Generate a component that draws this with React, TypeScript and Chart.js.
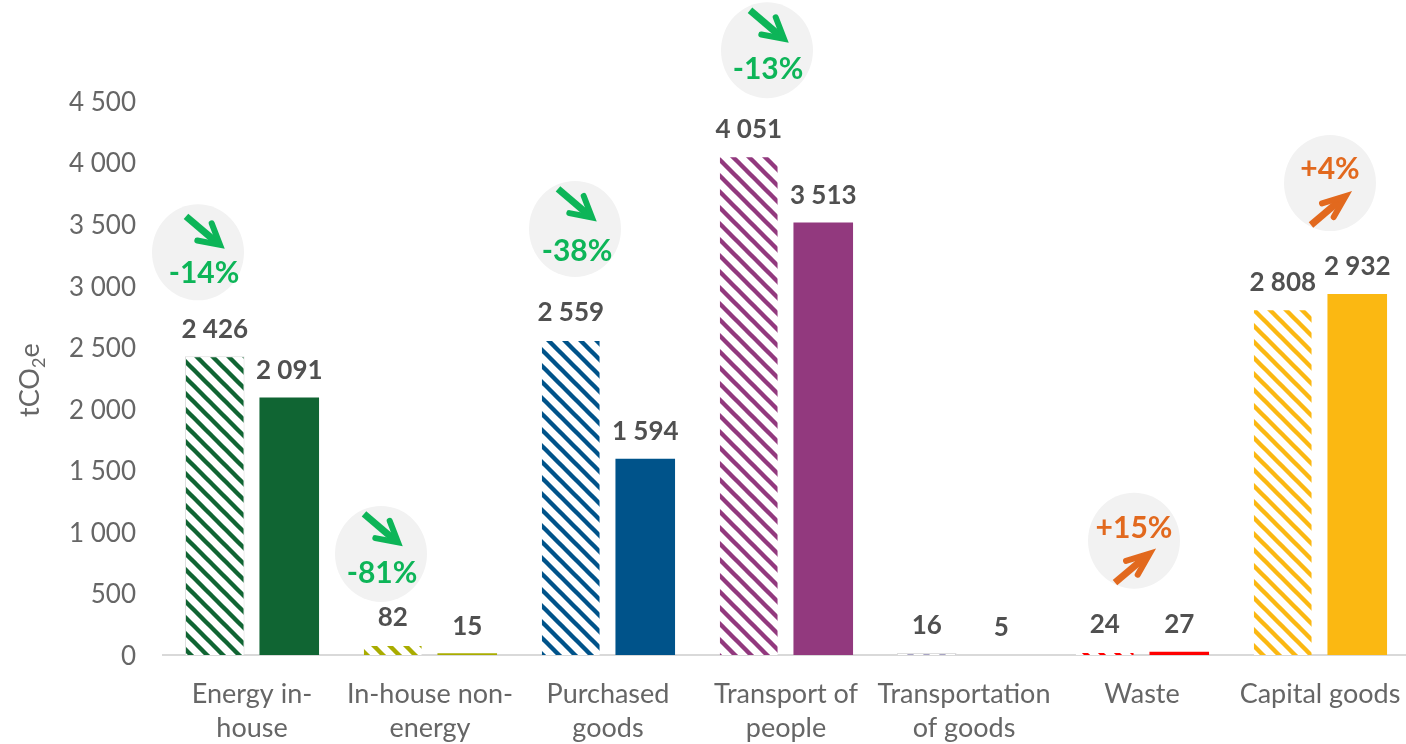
import React, { useEffect, useRef } from "react";
import { Chart, registerables } from "chart.js";

Chart.register(...registerables);

const categories = [
  ["Energy in-", "house"],
  ["In-house non-", "energy"],
  ["Purchased", "goods"],
  ["Transport of", "people"],
  ["Transportation", "of goods"],
  ["Waste"],
  ["Capital goods"],
];
const referenceValues = [2426, 82, 2559, 4051, 16, 24, 2808];
const currentValues = [2091, 15, 1594, 3513, 5, 27, 2932];
const changeLabels = ["-14%", "-81%", "-38%", "-13%", null, "+15%", "+4%"];
const hatchColors = ["#106533", "#A9AC00", "#00538A", "#92397E", "#A8A4C4", "#FF0000", "#FBB812"];
const solidColors = ["#106533", "#A9AC00", "#00538A", "#92397E", "#D9D9D9", "#FF0000", "#FBB812"];
const yTicks = [0, 500, 1000, 1500, 2000, 2500, 3000, 3500, 4000, 4500];

// Callout placement relative to the category centre and the tallest bar's top (px)
const calloutDx = [-54, -49, -33, -19, 0, -8, 10];
const calloutDy = [-104, -91, -111, -106, 0, -111, -111];
const calloutTextDx = [6, 1, 2, 1, 0, 0, 0];
const calloutTextDy = [21, 19, 22, 19, 0, -12, -14];
const calloutArrowShift = [[5, 4], [0, 0], [0, 0], [0, 0], [0, 0], [0, 0], [0, 0]];

const FONT = "Lato, Carlito, sans-serif";
const TEXT = "#666666";
const GREEN = "#0DB558";
const ORANGE = "#E2691E";

function stripes(color: string) {
  const size = 16;
  const c = document.createElement("canvas");
  c.width = size;
  c.height = size;
  const g = c.getContext("2d")!;
  g.fillStyle = "#ffffff";
  g.fillRect(0, 0, size, size);
  g.strokeStyle = color;
  g.lineWidth = 4.4;
  for (const o of [-size, 0, size]) {
    g.beginPath();
    g.moveTo(o - 2, -2);
    g.lineTo(o + size + 2, size + 2);
    g.stroke();
  }
  return g.createPattern(c, "repeat")!;
}

const fmt = (v: number) => String(v).replace(/\B(?=(\d{3})+$)/g, " ");

const overlay = {
  id: "overlay",
  afterDatasetsDraw(chart: any) {
    const { ctx, scales } = chart;
    const x = scales.x;
    const y = scales.y;
    ctx.save();
    // value labels
    ctx.font = `bold 26px ${FONT}`;
    ctx.fillStyle = "#505050";
    ctx.textAlign = "center";
    ctx.textBaseline = "middle";
    chart.data.datasets.forEach((ds: any, di: number) => {
      const meta = chart.getDatasetMeta(di);
      meta.data.forEach((bar: any, i: number) => {
        ctx.fillText(fmt(ds.data[i]), bar.x, y.getPixelForValue(ds.data[i]) - 27);
      });
    });
    // change callouts
    changeLabels.forEach((label, i) => {
      if (!label) return;
      const top = y.getPixelForValue(Math.max(referenceValues[i], currentValues[i]));
      const cx = x.getPixelForValue(i) + calloutDx[i];
      const cy = top + calloutDy[i];
      const up = label.startsWith("+");
      const col = up ? ORANGE : GREEN;
      ctx.fillStyle = "#F2F2F2";
      ctx.beginPath();
      ctx.ellipse(cx, cy, 46, 48, 0, 0, Math.PI * 2);
      ctx.fill();
      const ax = cx + calloutArrowShift[i][0];
      const ay = cy + calloutArrowShift[i][1];
      ctx.fillStyle = col;
      ctx.strokeStyle = col;
      ctx.lineCap = "butt";
      ctx.lineWidth = 7;
      const start = up ? [-19, 42] : [-17, -40];
      const tip = up ? [18.7, 10] : [20, -8.5];
      const b1 = up ? [-8, 17.3] : [8.7, -33];
      const b2 = up ? [6.7, 34] : [-5.7, -15.8];
      const m = [tip[0] - (tip[0] - start[0]) * 0.2, tip[1] - (tip[1] - start[1]) * 0.2];
      ctx.beginPath();
      ctx.moveTo(ax + start[0], ay + start[1]);
      ctx.lineTo(ax + m[0], ay + m[1]);
      ctx.stroke();
      ctx.lineWidth = 6;
      ctx.lineCap = "round";
      ctx.lineJoin = "miter";
      ctx.beginPath();
      ctx.moveTo(ax + b1[0], ay + b1[1] + (up ? 3 : 0));
      ctx.lineTo(ax + tip[0] - 3, ay + tip[1] + (up ? 3 : -3));
      ctx.lineTo(ax + b2[0] - (up ? 3 : 0), ay + b2[1] - (up ? 0 : 0));
      ctx.stroke();
      ctx.font = `bold 30px ${FONT}`;
      ctx.fillStyle = col;
      ctx.fillText(label, cx + calloutTextDx[i], cy + calloutTextDy[i]);
    });
    // y axis title with a true subscript
    ctx.translate(39, 417);
    ctx.rotate(-Math.PI / 2);
    ctx.textAlign = "left";
    ctx.textBaseline = "alphabetic";
    ctx.fillStyle = TEXT;
    ctx.font = `27px ${FONT}`;
    ctx.fillText("tCO", 0, 0);
    let w = ctx.measureText("tCO").width;
    ctx.font = `18px ${FONT}`;
    ctx.fillText("2", w, 6);
    w += ctx.measureText("2").width;
    ctx.font = `27px ${FONT}`;
    ctx.fillText("e", w, 0);
    ctx.restore();
  },
};

export default function App() {
  const ref = useRef<HTMLCanvasElement>(null);
  useEffect(() => {
    document.body.style.margin = "0";
    document.body.style.overflow = "hidden";
    const chart = new Chart(ref.current!, {
      type: "bar",
      plugins: [overlay],
      data: {
        labels: categories,
        datasets: [
          {
            label: "Reference year",
            data: referenceValues,
            backgroundColor: hatchColors.map(stripes),
            borderColor: hatchColors.map((_, i) => (i === 0 || i === 4 ? "#DEDEDE" : "rgba(0,0,0,0)")),
            borderWidth: 1,
            categoryPercentage: 0.837,
            barPercentage: 0.8,
          },
          {
            label: "Current year",
            data: currentValues,
            backgroundColor: solidColors,
            categoryPercentage: 0.837,
            barPercentage: 0.8,
          },
        ],
      },
      options: {
        responsive: false,
        animation: false,
        layout: { padding: { top: 101, left: 0, right: 0, bottom: 0 } },
        plugins: { legend: { display: false }, tooltip: { enabled: false } },
        scales: {
          x: {
            afterFit: (s: any) => {
              s.height = 89;
              s.paddingLeft = 0;
              s.paddingRight = 0;
            },
            grid: { display: false, drawTicks: false },
            border: { display: true, color: "#D9D9D9", width: 2 },
            ticks: {
              color: TEXT,
              font: { family: FONT, size: 27, lineHeight: 1.26 },
              padding: 22,
              maxRotation: 0,
              autoSkip: false,
            },
          },
          y: {
            min: 0,
            max: 4500,
            afterFit: (s: any) => { s.width = 163; },
            afterBuildTicks: (s: any) => { s.ticks = yTicks.map((value) => ({ value })); },
            grid: { display: false, drawTicks: false },
            border: { display: false },
            ticks: {
              color: TEXT,
              font: { family: FONT, size: 26 },
              padding: 27,
              labelOffset: 1.5,
              callback: (v: any) => fmt(Number(v)),
            },
          },
        },
      },
    });
    return () => chart.destroy();
  }, []);
  return (
    <div style={{ width: 1406, height: 744, overflow: "hidden", background: "#fff" }}>
      <canvas ref={ref} width={1409} height={744} style={{ display: "block" }} />
    </div>
  );
}
